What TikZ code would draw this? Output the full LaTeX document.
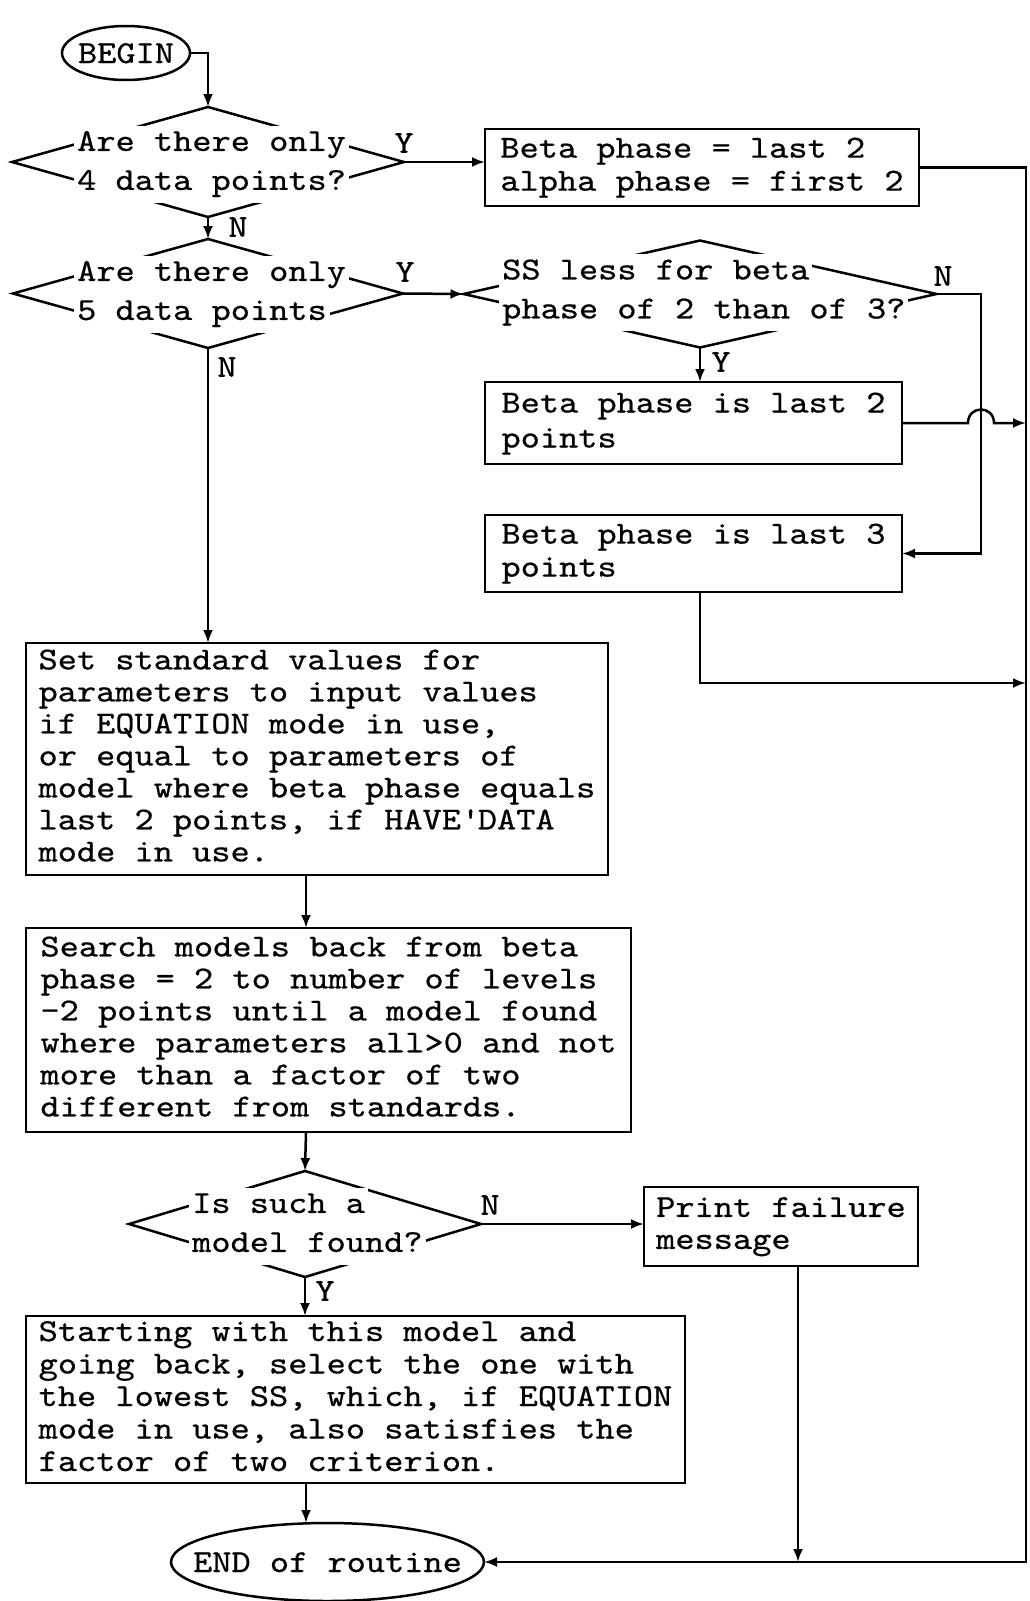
\documentclass[tikz,border=0pt]{standalone}
\usepackage{fontspec}
\newfontfamily\tw[FakeStretch=1.143,FakeBold=0.6]{lmmono10-regular.otf}
\usetikzlibrary{shapes.geometric,arrows.meta}
\newcommand\fsz[1]{\tw\fontsize{32}{#1}\selectfont}
\newcommand\ctl[1]{\raisebox{-10pt}[0pt][0pt]{\makebox[0pt]{#1}}}
\newcommand\wl[1]{{\fboxsep=3pt\colorbox{white}{\strut #1}}}
\tikzset{
  ln/.style={line width=2.5pt},
  arr/.style={ln, -{Latex[length=13pt,width=10pt]}},
  box/.style={draw, ln, rectangle, inner sep=0pt, outer sep=0pt, align=left},
  dia/.style={draw, ln, diamond, inner sep=0pt, outer sep=0pt},
  term/.style={draw, ln, ellipse, inner sep=0pt, outer sep=0pt, font=\fsz{32}},
  dtxt/.style={inner sep=0pt, align=left, font=\fsz{32}},
  lbl/.style={inner sep=0pt, font=\fsz{32}},
}
\begin{document}
\begin{tikzpicture}[x=1pt,y=-1pt]
\useasboundingbox (0,0) rectangle (1030,1601);

% helper coordinates
\coordinate (rv) at (1026,0);
\coordinate (jx) at (981,0);
\coordinate (mc) at (306,0);
\coordinate (fx) at (798,0);
\coordinate (h3) at (1026,683);

% terminals
\node[term, minimum width=128pt, minimum height=54pt] (begin) at (126,53) {\ctl{BEGIN}};
\node[term, minimum width=313pt, minimum height=78pt] (endn) at (327.5,1562) {\ctl{END of routine}};

% decisions
\node[dia, minimum width=392pt, minimum height=110pt] (d1) at (208,162) {};
\node[dtxt, anchor=west] (t1) at (74,164) {\wl{Are there only}\\\wl{4 data points?}};
\node[dia, minimum width=390pt, minimum height=109pt] (d2) at (208,293.5) {};
\node[dtxt, anchor=west] (t2) at (74,294) {\wl{Are there only}\\\wl{5 data points}};
\node[dia, minimum width=473pt, minimum height=107pt] (d3) at (700,294) {};
\node[dtxt, anchor=west] (t3) at (499,292.5) {\wl{SS less for beta}\\\wl{phase of 2 than of 3?}};
\node[dia, minimum width=352pt, minimum height=106pt] (d4) at (305,1224) {};
\node[dtxt, anchor=west] (t4) at (189,1226) {\wl{Is such a}\\\wl{model found?}};

% process boxes
\node[box, font=\fsz{33}, minimum width=434pt, minimum height=77pt] (b1) at (702,167.5)
  {\strut Beta phase = last 2\\\strut alpha phase = first 2};
\node[box, font=\fsz{35}, minimum width=417pt, minimum height=82pt] (b2) at (693.5,423)
  {\strut Beta phase is last 2\\\strut points};
\node[box, font=\fsz{33}, minimum width=417pt, minimum height=77pt] (b3) at (693.5,553.5)
  {\strut Beta phase is last 3\\\strut points};
\node[box, font=\fsz{32}, minimum width=582pt, minimum height=232pt] (b4) at (317,759)
  {\strut Set standard values for\\
   parameters to input values\\
   if EQUATION mode in use,\\
   or equal to parameters of\\
   model where beta phase equals\\
   last 2 points, if HAVE\textquotesingle DATA\\
   \strut mode in use.};
\node[box, font=\fsz{32}, minimum width=605pt, minimum height=204pt] (b5) at (328.5,1030)
  {\strut Search models back from beta\\
   phase = 2 to number of levels\\
   -2 points until a model found\\
   where parameters all>0 and not\\
   more than a factor of two\\
   \strut different from standards.};
\node[box, font=\fsz{32}, minimum width=274pt, minimum height=79pt] (b6) at (781,1226.5)
  {\strut Print failure\\\strut message};
\node[box, font=\fsz{32.5}, minimum width=659pt, minimum height=167pt] (b7) at (355.5,1399.5)
  {\strut Starting with this model and\\
   going back, select the one with\\
   the lowest SS, which, if EQUATION\\
   mode in use, also satisfies the\\
   \strut factor of two criterion.};

% labels
\node[lbl] (y1) at (404,143) {Y};
\node[lbl] (n1) at (238,227) {N};
\node[lbl] (y2) at (405,272) {Y};
\node[lbl] (n2) at (227,367) {N};
\node[lbl] (n3) at (943,276) {N};
\node[lbl] (y3) at (721,362) {Y};
\node[lbl] (n4) at (490,1205) {N};
\node[lbl] (y4) at (325,1291) {Y};

% connectors
\draw[arr] (begin.east) -| (d1.north);
\draw[arr] (d1.east) -- (d1.east -| b1.west);
\draw[arr] (d1.south) -- (d2.north);
\draw[arr] (d2.east) -- (d3.west);
\draw[arr] (d3.south) -- (d3.south |- b2.north);
\draw[arr] (d3.east) -- (d3.east -| jx) |- (b3.east);
\draw[arr] (b2.east) -- ([xshift=-13pt]b2.east -| jx)
   .. controls +(0,-18) and +(0,-18) .. ([xshift=13pt]b2.east -| jx) -- (b2.east -| rv);
\draw[arr] (b3.south -| d3.south) |- (h3);
\draw[arr] (b1.east) -| (rv |- endn.east) -- (endn.east);
\draw[arr] (d2.south) -- (d2.south |- b4.north);
\draw[arr] (b4.south -| mc) -- (b5.north -| mc);
\draw[arr] (b5.south -| mc) -- (d4.north);
\draw[arr] (d4.east) -- (d4.east -| b6.west);
\draw[arr] (d4.south) -- (d4.south |- b7.north);
\draw[arr] (b7.south -| mc) -- (mc |- endn.north);
\draw[arr] (b6.south -| fx) -- (fx |- endn.east);
\end{tikzpicture}
\end{document}
